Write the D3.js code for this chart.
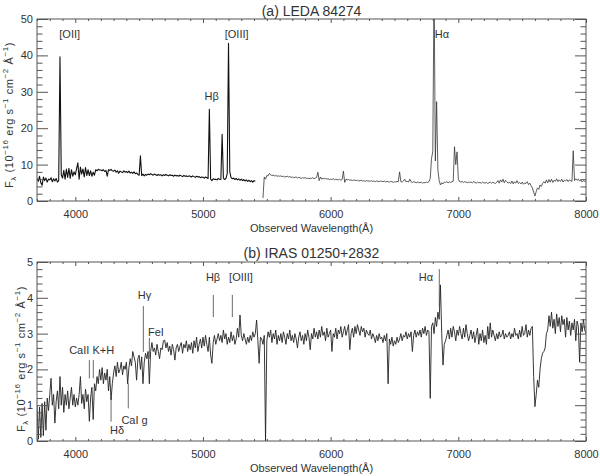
<!DOCTYPE html>
<html>
<head>
<meta charset="utf-8">
<script src="https://cdn.jsdelivr.net/npm/d3@7"></script>
<style>
  body { margin: 0; background: #fff; }
  text { font-family: "Liberation Sans", Arial, sans-serif; fill: #333; }
</style>
</head>
<body>
<svg id="chart" width="600" height="476"></svg>
<script>
// wavelength grid (Angstrom): every spectrum below is sampled every 10 A
const step = 10;

// (a) LEDA 84274, blue arm 3700-5410 A, flux in 1e-16 erg/s/cm2/A
const ledaBlueStart = 3700;
const ledaBlue = [
  6.2, 5.4, 6.8, 5.0, 4.3, 6.6, 5.6, 6.3, 5.2, 6.0,
  5.8, 6.4, 5.3, 6.1, 5.5, 6.2, 5.2, 5.6, 39.6, 7.2,
  6.3, 8.4, 6.0, 8.8, 6.5, 9.0, 6.2, 8.6, 6.8, 8.0,
  7.2, 8.9, 10.5, 6.0, 9.3, 7.4, 8.8, 6.6, 9.2, 7.0,
  8.6, 7.0, 8.3, 6.8, 7.9, 7.1, 8.6, 8.3, 8.7, 8.5,
  8.5, 8.3, 8.6, 8.1, 8.4, 6.8, 8.6, 8.4, 8.7, 8.3,
  8.2, 8.5, 7.9, 8.3, 7.6, 8.2, 8.0, 7.8, 8.3, 7.9,
  8.1, 7.8, 8.2, 7.7, 7.9, 7.6, 8.0, 7.5, 7.7, 7.3,
  7.1, 12.4, 7.0, 7.4, 6.9, 7.3, 7.1, 7.4, 7.2, 7.5,
  7.3, 7.1, 7.4, 7.2, 7.0, 7.3, 7.1, 7.2, 6.9, 7.2,
  7.0, 7.3, 7.1, 6.9, 7.2, 7.0, 7.1, 6.8, 7.1, 6.9,
  7.0, 6.8, 7.1, 6.9, 6.7, 7.0, 6.8, 6.9, 6.7, 6.9,
  6.8, 6.6, 6.9, 6.7, 6.5, 6.8, 6.6, 6.7, 6.4, 6.6,
  6.5, 6.3, 6.6, 6.4, 6.2, 25.2, 6.0, 5.6, 6.1, 5.9,
  6.0, 5.8, 6.2, 6.0, 5.9, 18.3, 6.3, 5.9, 6.2, 7.5,
  43.3, 8.0, 6.4, 6.1, 6.3, 5.9, 6.2, 5.8, 6.1, 5.7,
  6.0, 5.6, 5.9, 5.5, 5.8, 5.4, 5.7, 5.3, 5.6, 5.2,
  5.6, 5.4
];

// (a) LEDA 84274, red arm 5470-8000 A
const ledaRedStart = 5470;
const ledaRed = [
  0.8, 6.6, 6.0,
  7.0, 6.9, 7.6, 7.2, 7.0, 7.1, 6.9, 7.0, 6.8, 6.9,
  6.8, 6.9, 6.7, 6.8, 6.6, 6.7, 6.8, 6.6, 6.7, 6.5,
  6.6, 6.4, 6.5, 6.6, 6.3, 6.5, 6.4, 6.2, 6.4, 6.3,
  6.4, 6.2, 6.3, 6.1, 6.3, 6.2, 6.4, 6.1, 6.3, 6.5,
  7.9, 5.6, 6.6, 6.0, 6.3, 6.1, 6.2, 6.0, 6.1, 5.9,
  6.0, 5.9, 6.1, 5.8, 6.0, 5.9, 5.8, 6.0, 5.7, 5.9,
  8.2, 5.1, 6.0, 5.8, 5.9, 5.7, 5.8, 5.6, 5.8, 5.7,
  5.6, 5.7, 5.5, 5.6, 5.7, 5.5, 5.6, 5.4, 5.6, 5.5,
  5.5, 5.4, 5.6, 5.4, 5.5, 5.3, 5.5, 5.4, 5.3, 5.5,
  5.4, 5.3, 5.5, 5.2, 5.4, 5.3, 5.2, 5.4, 5.3, 5.1,
  5.3, 5.2, 5.4, 5.3, 8.0, 5.3, 5.2, 5.5, 6.0, 5.3,
  5.4, 5.2, 6.0, 5.3, 5.1, 5.3, 5.2, 5.0, 5.2, 5.1,
  5.0, 5.2, 4.9, 5.1, 5.0, 5.2, 5.1, 5.3, 6.2, 11.7,
  13.5, 60.0, 11.0, 27.3, 8.5, 5.6, 4.4, 5.0, 4.7, 5.2,
  5.1, 5.3, 5.0, 5.2, 5.1, 5.3, 5.4, 14.9, 10.0, 13.5,
  6.0, 5.3, 5.2, 5.4, 5.1, 5.3, 5.2, 5.0, 5.2, 5.1,
  5.2, 5.0, 5.3, 5.1, 4.9, 5.2, 5.0, 5.1, 4.9, 5.2,
  5.0, 4.9, 5.1, 4.8, 5.0, 5.2, 4.9, 5.1, 5.0, 4.8,
  5.1, 5.6, 4.9, 5.8, 5.2, 6.0, 5.0, 5.7, 5.3, 4.9,
  5.2, 4.8, 5.5, 4.7, 5.3, 4.9, 5.6, 4.8, 5.1, 4.7,
  5.2, 4.6, 5.0, 4.8, 5.3, 4.5, 4.9, 4.2, 3.6, 2.4,
  1.4, 2.6, 3.6, 3.2, 4.4, 4.0, 4.8, 5.3, 4.9, 5.8,
  5.0, 5.9, 5.2, 6.0, 5.1, 5.7, 5.4, 6.1, 5.3, 5.8,
  5.4, 6.0, 5.2, 5.7, 5.5, 5.9, 5.3, 5.8, 5.6, 5.4,
  13.8, 5.6, 6.1, 5.7, 6.0, 5.5, 5.8, 5.2, 5.6, 5.4,
  5.5
];

// (b) IRAS 01250+2832, 3700-8000 A
const irasStart = 3700;
const iras = [
  1.0, 0.05, 0.95, 0.1, 1.05, 0.15, 1.1, 0.3, 1.2, 0.85,
  1.3, 1.75, 1.0, 1.3, 0.5, 1.1, 1.4, 0.9, 1.8, 1.0,
  1.5, 0.8, 1.3, 1.0, 1.4, 0.9, 1.2, 1.5, 1.0, 1.3,
  0.95, 1.2, 1.0, 1.3, 1.8, 1.05, 1.3, 0.9, 1.45, 1.1,
  1.3, 0.55, 1.2, 1.5, 0.6, 1.6, 1.4, 1.8, 1.6, 2.0,
  1.7, 2.05, 1.6, 1.9, 1.7, 2.0, 1.4, 1.8, 1.15, 1.6,
  1.9, 2.1, 1.8, 2.2, 1.9, 2.0, 2.2, 1.85, 2.1, 2.0,
  2.2, 1.6, 2.05, 2.3, 2.1, 2.5, 2.35, 2.2, 1.7, 2.3,
  2.4, 2.0, 2.35, 1.6, 2.2, 2.45, 2.3, 2.5, 1.6, 2.5,
  2.75, 2.5, 2.6, 2.4, 2.7, 2.5, 2.3, 2.6, 2.55, 2.8,
  2.82, 2.6, 2.75, 2.5, 2.65, 2.4, 2.7, 2.55, 2.26, 2.6,
  2.7, 2.5, 2.65, 2.75, 2.45, 2.7, 2.6, 2.8, 2.5, 2.7,
  2.55, 2.75, 2.45, 2.8, 2.6, 2.9, 2.5, 2.7, 2.85, 2.6,
  2.9, 2.65, 2.95, 2.7, 2.5, 2.9, 2.4, 2.17, 2.75, 2.95,
  2.7, 2.85, 3.0, 2.8, 2.95, 2.75, 3.1, 2.85, 3.0, 2.7,
  2.9, 2.75, 3.05, 2.8, 2.95, 2.7, 2.85, 3.15, 2.9, 3.52,
  2.95, 2.8, 3.0, 2.85, 2.7, 2.9, 2.75, 2.95, 2.8, 3.05,
  2.9, 3.0, 3.38, 2.8, 2.17, 2.9, 2.85, 2.7, 2.95, 0.0,
  2.8, 3.05, 2.9, 3.1, 2.75, 3.0, 2.85, 3.1, 2.7, 2.95,
  2.8, 3.0, 2.75, 3.05, 2.9, 2.7, 3.0, 2.85, 3.1, 2.8,
  2.95, 2.75, 3.0, 2.85, 2.6, 2.9, 3.05, 2.8, 2.95, 2.7,
  3.0, 2.8, 3.1, 2.9, 2.55, 3.0, 2.85, 3.15, 2.9, 3.05,
  2.85, 3.1, 2.9, 3.2, 2.95, 3.05, 2.8, 3.15, 2.9, 3.0,
  3.1, 2.5, 3.0, 2.9, 3.15, 2.85, 3.1, 3.0, 3.2, 2.9,
  3.05, 3.2, 2.95, 3.1, 3.25, 2.55, 3.0, 3.15, 2.9, 3.2,
  3.0, 3.25, 3.1, 2.95, 3.2, 3.05, 3.15, 2.9, 3.1, 3.0,
  2.95, 3.1, 2.85, 3.0, 2.9, 2.75, 2.95, 2.8, 3.0, 2.85,
  2.9, 2.75, 2.95, 2.8, 3.0, 1.6, 2.85, 2.7, 2.9, 2.65,
  2.8, 2.7, 2.9, 2.75, 2.85, 3.0, 2.8, 2.95, 2.9, 3.05,
  2.85, 3.0, 2.9, 3.05, 2.5, 2.95, 3.1, 2.9, 3.05, 2.95,
  3.1, 2.9, 3.15, 3.0, 3.2, 2.95, 3.1, 3.05, 1.19, 3.2,
  3.3, 3.0, 3.45, 3.2, 3.6, 3.4, 4.36, 3.0, 2.12, 2.7,
  2.8, 2.95, 3.1, 2.85, 3.15, 2.9, 3.2, 3.05, 2.8, 3.1,
  2.95, 3.2, 3.0, 2.85, 3.15, 2.9, 3.25, 3.0, 2.8, 2.95,
  3.1, 2.85, 3.05, 2.75, 2.95, 3.15, 2.7, 3.0, 2.8, 3.1,
  2.75, 2.95, 2.7, 3.2, 2.85, 3.3, 2.9, 3.1, 2.95, 2.8,
  3.0, 2.85, 3.05, 2.9, 2.95, 3.1, 2.85, 3.0, 2.9, 2.95,
  3.05, 2.85, 3.0, 2.9, 3.15, 2.95, 3.0, 2.85, 3.1, 2.9,
  3.2, 2.95, 3.0, 3.25, 2.9, 3.1, 2.95, 3.15, 3.2, 1.8,
  0.96, 1.3, 1.7, 1.5, 2.0, 2.3, 2.45, 2.5, 2.6, 3.0,
  3.1, 3.5, 3.2, 3.6, 3.15, 3.4, 3.0, 3.55, 3.2, 3.45,
  3.05, 3.5, 3.25, 3.4, 2.9, 3.45, 3.1, 3.35, 2.95, 3.3,
  3.1, 3.4, 2.8, 3.35, 3.2, 2.2, 3.3, 3.05, 3.4, 3.1,
  3.0
];

// axis ticks
const waveTicks = [4000, 5000, 6000, 7000, 8000];
const ledaTicks = [0, 10, 20, 30, 40, 50];
const irasTicks = [0, 1, 2, 3, 4, 5];

// line labels: [text, wavelength, flux]
const ledaLabels = [
  ['[OII]', 3956, 45.9],
  ['Hβ', 5068, 28.7],
  ['[OIII]', 5264, 45.9],
  ['Hα', 6872, 45.9]
];
const irasLabels = [
  ['CaII K+H', 4128, 2.54],
  ['Hδ', 4327, 0.31],
  ['CaI g', 4464, 0.59],
  ['Hγ', 4542, 4.08],
  ['FeI', 4632, 3.03],
  ['Hβ', 5079, 4.59],
  ['[OIII]', 5298, 4.59],
  ['Hα', 6747, 4.59]
];
// marker lines: [wavelength, flux top, flux bottom]
const irasMarks = [
  [4110, 2.26, 1.75],
  [4141, 2.26, 1.75],
  [4280, 1.24, 0.54],
  [4415, 1.61, 0.91],
  [4533, 3.77, 2.49],
  [4580, 2.88, 2.3],
  [5081, 4.08, 3.46],
  [5230, 4.08, 3.46],
  [6851, 4.8, 3.75]
];

const FONT = '"Liberation Sans", Arial, sans-serif';
const svg = d3.select('#chart');
const x = d3.scaleLinear().domain([3700, 8000]).range([37, 586]);

function toPoints(start, values) {
  return values.map((v, i) => [start + i * step, v]);
}

function drawPanel(opt) {
  const y = d3.scaleLinear().domain([0, opt.yMax]).range([opt.bottom, opt.top]);
  const g = svg.append('g');
  const clipId = 'clip-' + opt.id;

  g.append('clipPath').attr('id', clipId)
    .append('rect')
      .attr('x', 37).attr('y', opt.top)
      .attr('width', 549).attr('height', opt.bottom - opt.top);

  const line = d3.line().x(d => x(d[0])).y(d => y(d[1]));
  opt.series.forEach(s => {
    g.append('path')
      .datum(s.points)
      .attr('clip-path', `url(#${clipId})`)
      .attr('fill', 'none')
      .attr('stroke', s.color)
      .attr('stroke-width', s.width)
      .attr('stroke-linejoin', 'round')
      .attr('d', line);
  });

  const style = sel => {
    sel.attr('font-size', 11).attr('font-family', FONT).attr('color', '#555');
    sel.select('.domain').remove();
    sel.selectAll('text').attr('fill', '#333');
  };

  // x axes (bottom with labels, top without), minor every 100 A
  const xMinor = d3.range(3700, 8001, 100).filter(d => !waveTicks.includes(d));
  g.append('g').attr('transform', `translate(0,${opt.bottom})`)
    .call(d3.axisBottom(x).tickValues(waveTicks).tickSize(-4).tickPadding(9).tickFormat(d3.format('d')))
    .call(style);
  g.append('g').attr('transform', `translate(0,${opt.bottom})`)
    .call(d3.axisBottom(x).tickValues(xMinor).tickSize(-2).tickFormat(''))
    .call(style);
  g.append('g').attr('transform', `translate(0,${opt.top})`)
    .call(d3.axisTop(x).tickValues(waveTicks).tickSize(-4).tickFormat(''))
    .call(style);
  g.append('g').attr('transform', `translate(0,${opt.top})`)
    .call(d3.axisTop(x).tickValues(xMinor).tickSize(-2).tickFormat(''))
    .call(style);

  // y axes
  const yMinor = d3.range(0, opt.yMax + 1e-9, opt.yMinor).filter(d => !opt.yTicks.some(t => Math.abs(t - d) < 1e-6));
  g.append('g').attr('transform', 'translate(37,0)')
    .call(d3.axisLeft(y).tickValues(opt.yTicks).tickSize(-11).tickPadding(4).tickFormat(d3.format('d')))
    .call(style);
  g.append('g').attr('transform', 'translate(37,0)')
    .call(d3.axisLeft(y).tickValues(yMinor).tickSize(-5.5).tickFormat(''))
    .call(style);
  g.append('g').attr('transform', 'translate(586,0)')
    .call(d3.axisRight(y).tickValues(opt.yTicks).tickSize(-11).tickFormat(''))
    .call(style);
  g.append('g').attr('transform', 'translate(586,0)')
    .call(d3.axisRight(y).tickValues(yMinor).tickSize(-5.5).tickFormat(''))
    .call(style);

  // frame
  g.append('rect')
    .attr('x', 37).attr('y', opt.top)
    .attr('width', 549).attr('height', opt.bottom - opt.top)
    .attr('fill', 'none').attr('stroke', '#555').attr('stroke-width', 1);

  // marker lines and labels
  g.selectAll('.mark').data(opt.marks).enter().append('line')
    .attr('x1', d => x(d[0])).attr('x2', d => x(d[0]))
    .attr('y1', d => y(d[1])).attr('y2', d => y(d[2]))
    .attr('stroke', '#444').attr('stroke-width', 0.8);
  g.selectAll('.lab').data(opt.labels).enter().append('text')
    .attr('x', d => x(d[1])).attr('y', d => y(d[2]))
    .attr('dy', '0.35em')
    .attr('text-anchor', 'middle')
    .attr('font-size', 11)
    .text(d => d[0]);

  // title
  g.append('text')
    .attr('x', 311.5).attr('y', opt.titleY)
    .attr('text-anchor', 'middle')
    .attr('font-size', 14)
    .text(opt.title);

  // x title
  g.append('text')
    .attr('x', 311.5).attr('y', opt.bottom + 31)
    .attr('text-anchor', 'middle')
    .attr('font-size', 11)
    .text('Observed Wavelength(Å)');

  // y title
  const yt = g.append('text')
    .attr('transform', `translate(${opt.ylabX},${opt.ylabY}) rotate(-90)`)
    .attr('text-anchor', 'middle')
    .attr('font-size', 11)
    .attr('letter-spacing', 0.6);
  const parts = [
    ['F', 0], ['λ', 1], [' (10', 0], ['−16', 2], [' erg s', 0], ['−1', 2],
    [' cm', 0], ['−2', 2], [' Å', 0], ['−1', 2], [')', 0]
  ];
  let shift = 0;
  parts.forEach(([t, kind]) => {
    const target = kind === 1 ? 3 : kind === 2 ? -5 : 0;
    yt.append('tspan')
      .attr('dy', target - shift)
      .attr('font-size', kind ? 8 : 11)
      .text(t);
    shift = target;
  });
}

drawPanel({
  id: 'a', top: 19, bottom: 201, yMax: 50, yTicks: ledaTicks, yMinor: 2,
  title: '(a) LEDA 84274', titleY: 16, ylabX: 13, ylabY: 115,
  series: [
    { points: toPoints(ledaBlueStart, ledaBlue), color: '#111', width: 1.1 },
    { points: toPoints(ledaRedStart, ledaRed), color: '#333', width: 0.8 }
  ],
  labels: ledaLabels, marks: []
});

drawPanel({
  id: 'b', top: 262, bottom: 441, yMax: 5, yTicks: irasTicks, yMinor: 0.2,
  title: '(b) IRAS 01250+2832', titleY: 258, ylabX: 25, ylabY: 359,
  series: [
    { points: toPoints(irasStart, iras), color: '#222', width: 0.9 }
  ],
  labels: irasLabels, marks: irasMarks
});
</script>
</body>
</html>
